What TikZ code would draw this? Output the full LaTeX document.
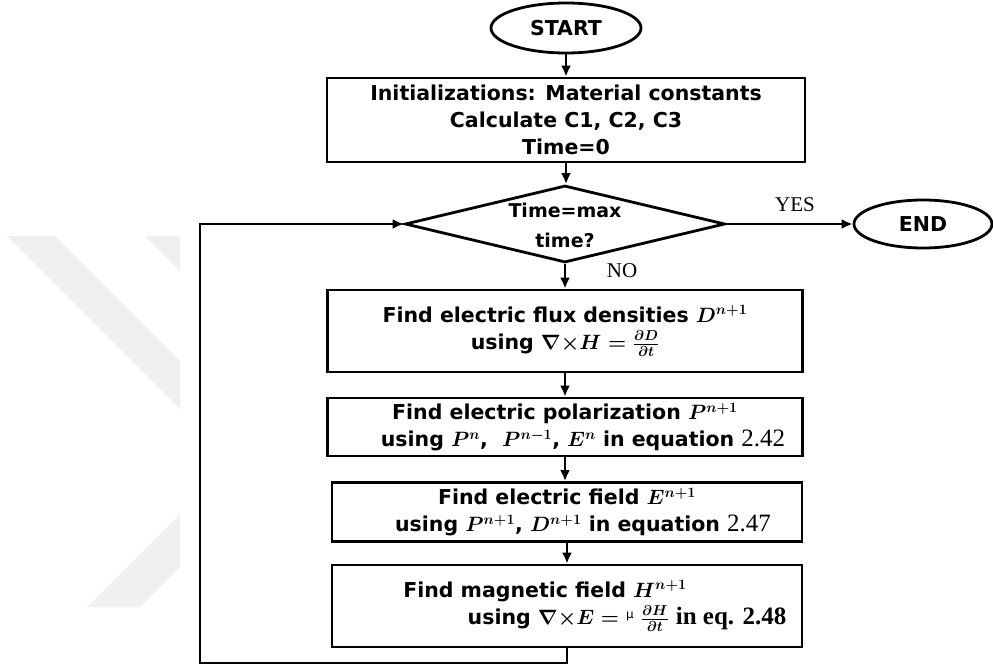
\documentclass[tikz,border=0pt]{standalone}
\usepackage{fontspec}
\setmainfont{DejaVu Sans}
\newfontfamily\tnr{Liberation Serif}
\usetikzlibrary{shapes.geometric,arrows.meta}

\tikzset{
  flowbox/.style={draw,line width=2.8pt,inner sep=0pt,align=center,
    font=\fontsize{20.5}{27}\selectfont\bfseries\boldmath},
  terminal/.style={draw,ellipse,line width=2.8pt,inner sep=0pt,
    font=\fontsize{20.5}{24}\selectfont\bfseries},
  decision/.style={draw,diamond,line width=2.8pt,inner sep=0pt},
  flowarrow/.style={line width=2.6pt,-{Latex[length=11pt,width=10pt]}},
  answer/.style={font=\fontsize{21}{24}\selectfont\tnr},
}

\begin{document}
\begin{tikzpicture}[x=1pt,y=-1pt]
    \useasboundingbox (0,0) rectangle (993,669);
    \fill [black!6] (7,236) -- (55,236) -- (180,361) -- (180,409) -- cycle;
    \fill [black!6] (145,236) -- (180,236) -- (180,271) -- cycle;
    \fill [black!6] (180,514) -- (180,567) -- (140,607) -- (87,607) -- cycle;
    \node [terminal,minimum width=150pt,minimum height=50pt] (start) at (566,28) {START};
    \node [flowbox,minimum width=478pt,minimum height=84pt] (init) at (566,120)
        {Initializations: Material constants\\Calculate C1, C2, C3\\Time=0};
    \node [decision,minimum width=320pt,minimum height=77pt,
        label={[name=dectext,align=center,font=\fontsize{19}{30}\selectfont\bfseries,yshift=-1pt]center:Time=max\\time?}]
        (dec) at (565,224) {};
    \node [terminal,minimum width=138pt,minimum height=48pt] (stop) at (923,224) {END};
    \node [flowbox,minimum width=475pt,minimum height=82pt] (flux) at (565,331)
        {Find electric flux densities $D^{n+1}$\\using $\nabla{\times}H = \frac{\partial D}{\partial t}$};
    \node [flowbox,minimum width=475pt,minimum height=58pt] (polar) at (565,427)
        {Find electric polarization $P^{n+1}$\\\kern36pt using $P^{n}$,~ $P^{n-1}$, $E^{n}$ in equation {\tnr\mdseries\fontsize{25}{25}\selectfont 2.42}};
    \node [flowbox,minimum width=470pt,minimum height=59pt] (efield) at (567,512)
        {Find electric field $E^{n+1}$\\\kern32pt using $P^{n+1}$, $D^{n+1}$ in equation {\tnr\mdseries\fontsize{25}{25}\selectfont 2.47}};
    \node [flowbox,minimum width=470pt,minimum height=82pt] (hfield) at (567,606)
        {Find magnetic field $H^{n+1}$\kern44pt\mbox{}\\\kern120pt using $\nabla{\times}E =$ \raisebox{6pt}{\mdseries\fontsize{12}{12}\selectfont μ} $\frac{\partial H}{\partial t}$ {\tnr\fontsize{25}{25}\selectfont in eq. 2.48}};
    \coordinate (loopcorner) at (200,663);
    \draw [flowarrow] (start.south) -- (start.south |- init.north);
    \draw [flowarrow] (init.south) -- (init.south |- dec.north);
    \draw [flowarrow] (dec.south) -- (dec.south |- flux.north);
    \draw [flowarrow] (flux.south) -- (flux.south |- polar.north);
    \draw [flowarrow] (polar.south) -- (polar.south |- efield.north);
    \draw [flowarrow] (efield.south) -- (efield.south |- hfield.north);
    \draw [flowarrow] (dec.east) -- (stop.west);
    \draw [flowarrow] (hfield.south) |- (loopcorner) |- (dec.west);
    \node [answer] (yes) at (795,205) {YES};
    \node [answer] (no) at (622,271) {NO};
\end{tikzpicture}
\end{document}
